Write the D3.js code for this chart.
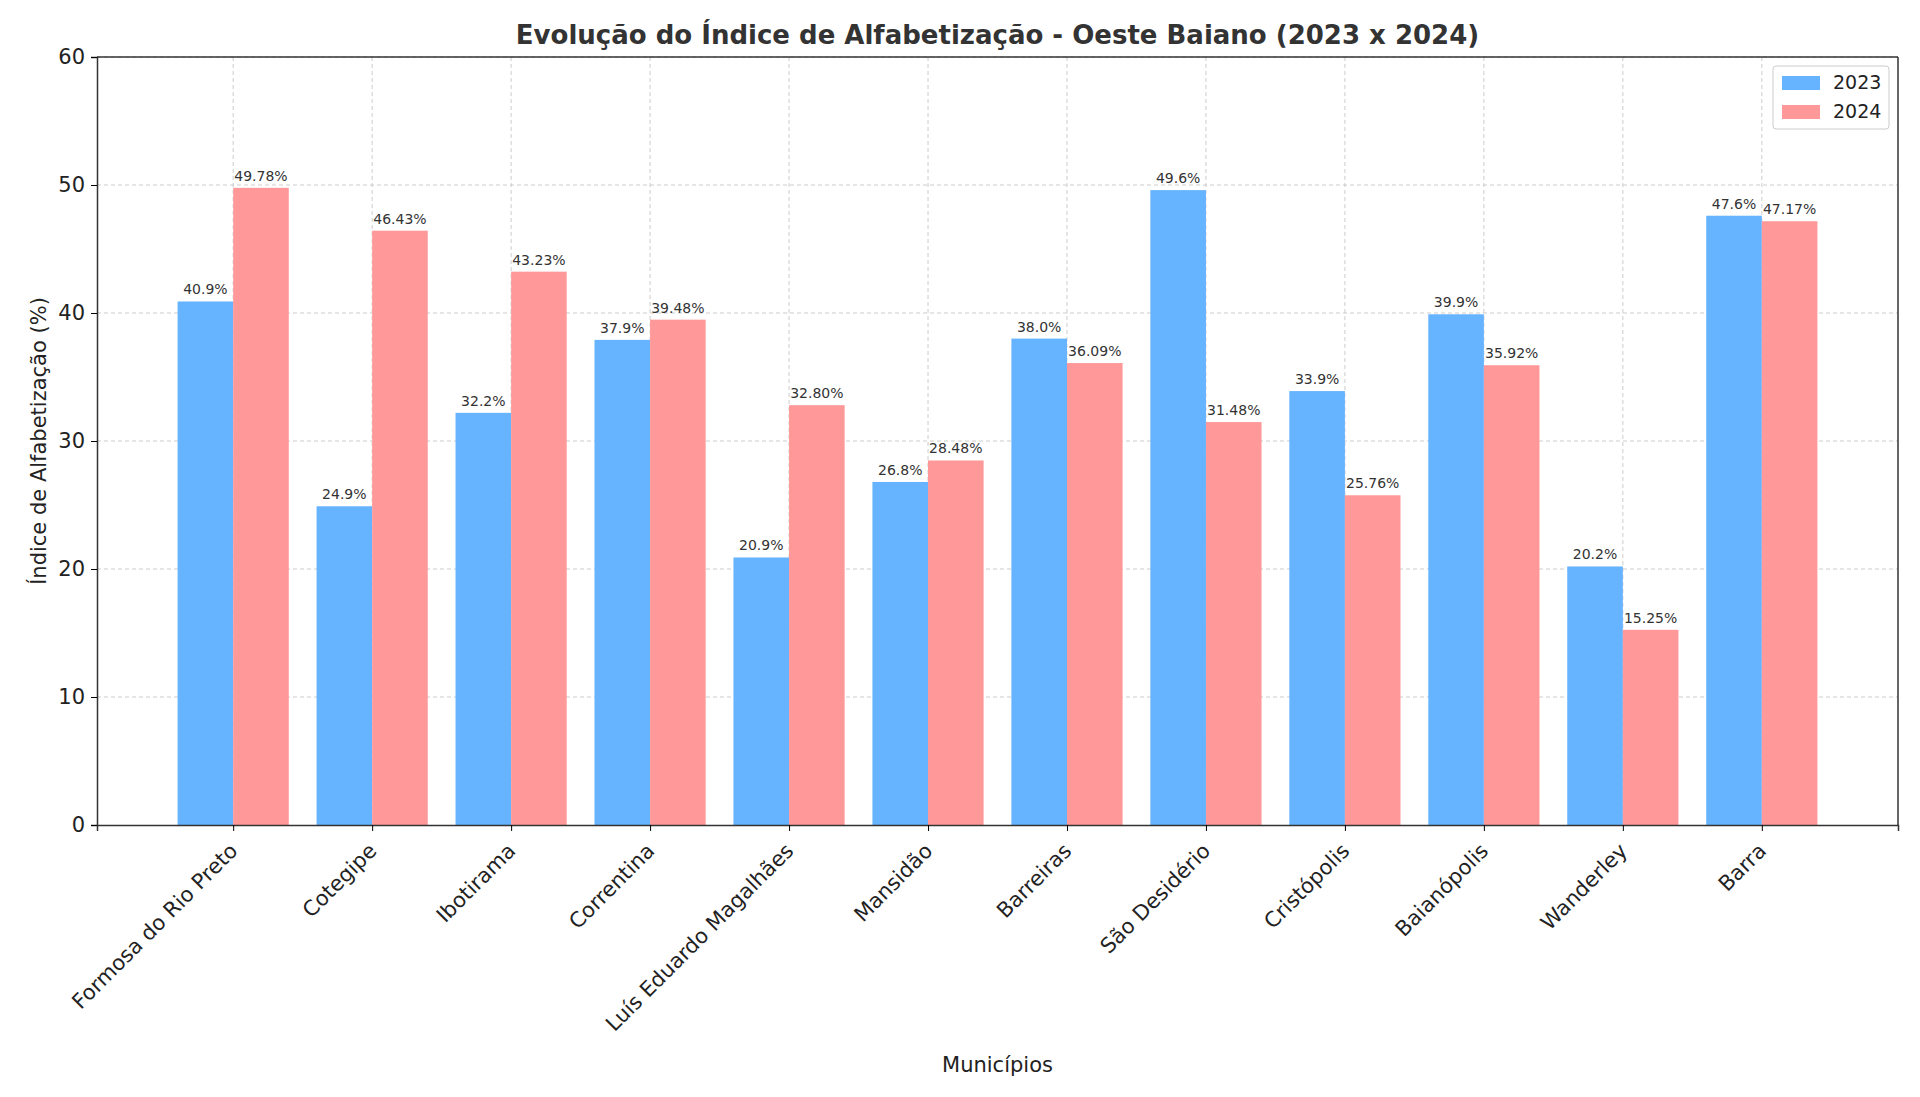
<!DOCTYPE html>
<html><head><meta charset="utf-8">
<script src="https://cdn.jsdelivr.net/npm/d3@7"></script>
<style>body{margin:0;background:#fff;font-family:"DejaVu Sans",sans-serif;}</style>
</head><body>
<svg id="chart" width="1920" height="1097"></svg>
<script>
// data
const municipios = ["Formosa do Rio Preto","Cotegipe","Ibotirama","Correntina","Luís Eduardo Magalhães","Mansidão","Barreiras","São Desidério","Cristópolis","Baianópolis","Wanderley","Barra"];
const v2023 = [40.9,24.9,32.2,37.9,20.9,26.8,38.0,49.6,33.9,39.9,20.2,47.6];
const v2024 = [49.78,46.43,43.23,39.48,32.80,28.48,36.09,31.48,25.76,35.92,15.25,47.17];
const yTicks = [0,10,20,30,40,50,60];

const svg = d3.select("#chart");
const margin = {top: 57, right: 22, bottom: 272, left: 97};
const W = 1920, H = 1097;
const iw = W - margin.left - margin.right, ih = H - margin.top - margin.bottom;
const g = svg.append("g").attr("transform", `translate(${margin.left},${margin.top})`);

const x = d3.scaleLinear().domain([-0.98, 11.98]).range([0, iw]);
const y = d3.scaleLinear().domain([0, 60]).range([ih, 0]);
const bw = x(0.4) - x(0);

// grid
g.selectAll(".hg").data(yTicks.slice(1)).enter().append("line")
  .attr("x1",0).attr("x2",iw).attr("y1",d=>y(d)).attr("y2",d=>y(d))
  .attr("stroke","#ccc").attr("stroke-dasharray","4,3").attr("stroke-width",1);
g.selectAll(".vg").data(municipios).enter().append("line")
  .attr("x1",(d,i)=>x(i)).attr("x2",(d,i)=>x(i)).attr("y1",0).attr("y2",ih)
  .attr("stroke","#ccc").attr("stroke-dasharray","4,3").attr("stroke-width",1);

// bars
const series = [{vals:v2023, off:-0.4, color:"#66b3ff", fmt:d=>d.toFixed(1)+"%"},
                {vals:v2024, off:0, color:"#ff9999", fmt:d=>d.toFixed(2)+"%"}];
series.forEach(s => {
  g.selectAll(null).data(s.vals).enter().append("rect")
    .attr("x",(d,i)=>x(i+s.off)).attr("width",bw)
    .attr("y",d=>y(d)).attr("height",d=>ih-y(d)).attr("fill",s.color);
  g.selectAll(null).data(s.vals).enter().append("text")
    .attr("x",(d,i)=>x(i+s.off)+bw/2).attr("y",d=>y(d)-7)
    .attr("text-anchor","middle").attr("font-size",14).attr("fill","#333")
    .text(s.fmt);
});

// axes
const yAxis = g.append("g").call(d3.axisLeft(y).tickValues(yTicks).tickSize(6).tickPadding(6));
yAxis.selectAll("text").attr("font-size",21).attr("fill","#222").attr("font-family","DejaVu Sans");
yAxis.select(".domain").attr("stroke","#333").attr("stroke-width",1.5);
const xAxis = g.append("g").attr("transform",`translate(0,${ih})`)
  .call(d3.axisBottom(x).tickValues(d3.range(12)).tickFormat(i=>municipios[i]).tickSize(6));
xAxis.select(".domain").attr("stroke","#333").attr("stroke-width",1.5);
xAxis.selectAll("text").attr("font-size",21).attr("fill","#222").attr("font-family","DejaVu Sans")
  .attr("text-anchor","end").attr("dy","0.35em")
  .attr("transform","translate(0,22) rotate(-45)").attr("y",0).attr("x",0);
g.append("line").attr("x1",iw).attr("x2",iw).attr("y1",0).attr("y2",ih).attr("stroke","#333").attr("stroke-width",1.5);
g.append("line").attr("x1",0).attr("x2",iw).attr("y1",0).attr("y2",0).attr("stroke","#333").attr("stroke-width",1.5);

// labels
svg.append("text").attr("x", margin.left+iw/2).attr("y",44).attr("text-anchor","middle")
  .attr("font-size",26).attr("font-weight","bold").attr("fill","#333")
  .text("Evolução do Índice de Alfabetização - Oeste Baiano (2023 x 2024)");
svg.append("text").attr("x", margin.left+iw/2).attr("y",1072).attr("text-anchor","middle")
  .attr("font-size",21).attr("fill","#222").text("Municípios");
svg.append("text").attr("transform",`translate(46,${margin.top+ih/2}) rotate(-90)`)
  .attr("text-anchor","middle").attr("font-size",21).attr("fill","#222").text("Índice de Alfabetização (%)");

// legend
const lg = svg.append("g").attr("transform","translate(1773,66)");
lg.append("rect").attr("width",116).attr("height",63).attr("rx",3).attr("fill","#fff").attr("fill-opacity",0.85).attr("stroke","#ccc");
[["2023","#66b3ff"],["2024","#ff9999"]].forEach(([t,c],i)=>{
  lg.append("rect").attr("x",9).attr("y",10+i*29).attr("width",38).attr("height",14).attr("fill",c);
  lg.append("text").attr("x",60).attr("y",23+i*29).attr("font-size",19).attr("fill","#222").text(t);
});
</script>
</body></html>
